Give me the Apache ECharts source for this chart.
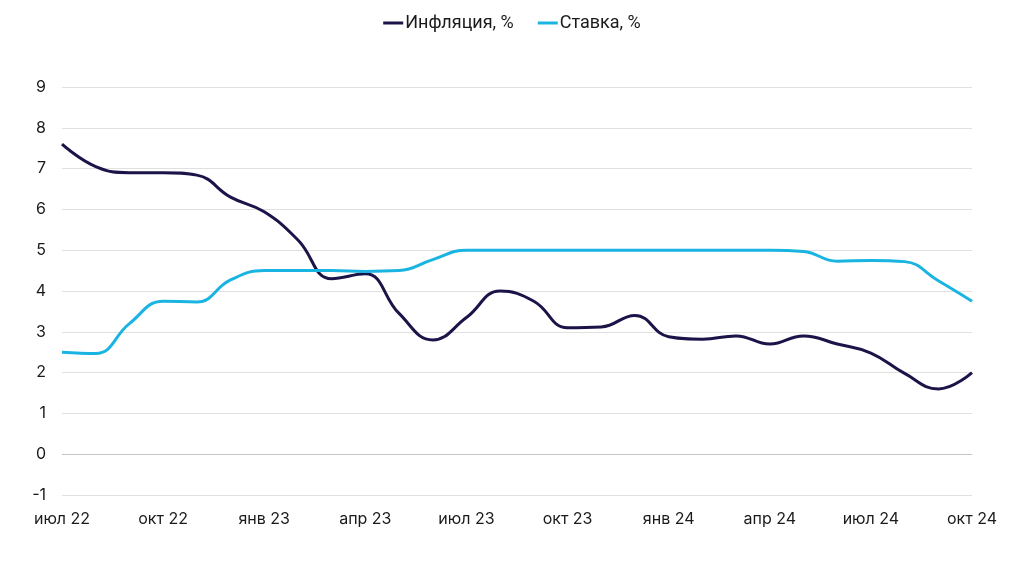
<!DOCTYPE html>
<html><head><meta charset="utf-8">
<script src="https://cdn.jsdelivr.net/npm/echarts@6/dist/echarts.min.js"></script>
<style>html,body{margin:0;padding:0;background:#fff}#c{width:1024px;height:571px}</style>
</head><body><div id="c"></div>
<script>
const months = ['июл 22','авг 22','сен 22','окт 22','ноя 22','дек 22','янв 23','фев 23','мар 23','апр 23','май 23','июн 23','июл 23','авг 23','сен 23','окт 23','ноя 23','дек 23','янв 24','фев 24','мар 24','апр 24','май 24','июн 24','июл 24','авг 24','сен 24','окт 24'];
const inflation = [7.6,7.05,6.9,6.9,6.84,6.3,5.94,5.25,4.3,4.42,3.45,2.8,3.35,4.0,3.75,3.1,3.12,3.4,2.88,2.82,2.9,2.7,2.9,2.7,2.48,1.98,1.6,2.0];
const rate = [2.5,2.47,3.2,3.75,3.73,4.27,4.5,4.5,4.5,4.48,4.5,4.77,5.0,5.0,5.0,5.0,5.0,5.0,5.0,5.0,5.0,5.0,4.97,4.73,4.75,4.72,4.25,3.75];
const yTicks = [-1,0,1,2,3,4,5,6,7,8,9];

const chart = echarts.init(document.getElementById('c'));
const gridColors = yTicks.map(v => v === 0 ? '#c4c4c4' : '#e0e0e0');
chart.setOption({
  animation:false,
  textStyle:{fontFamily:'Inter'},
  legend:{
    top:9,left:'center',itemWidth:20,itemHeight:3,itemGap:24,icon:'rect',
    textStyle:{fontFamily:'Roboto',fontSize:18,color:'#1a1a1a',padding:[0,0,0,-3]},
    data:['Инфляция, %','Ставка, %']
  },
  grid:{left:62,right:52,top:87,bottom:76},
  xAxis:{
    type:'category',data:months,boundaryGap:false,
    axisLine:{show:false},axisTick:{show:false},
    axisLabel:{interval:2,color:'#1a1a1a',fontSize:16,margin:16,fontFamily:'Inter'},
    splitLine:{show:false}
  },
  yAxis:{
    type:'value',min:-1,max:9,interval:1,
    axisLine:{show:false},axisTick:{show:false},
    axisLabel:{color:'#1a1a1a',fontSize:16,margin:16,fontFamily:'Inter'},
    splitLine:{lineStyle:{color:gridColors,width:1}}
  },
  series:[
    {name:'Инфляция, %',type:'line',data:inflation,smooth:0.45,symbol:'none',
     lineStyle:{color:'#1b1449',width:3},itemStyle:{color:'#1b1449'}},
    {name:'Ставка, %',type:'line',data:rate,smooth:0.45,symbol:'none',
     lineStyle:{color:'#1ab4e2',width:3},itemStyle:{color:'#1ab4e2'}}
  ]
});
</script></body></html>
